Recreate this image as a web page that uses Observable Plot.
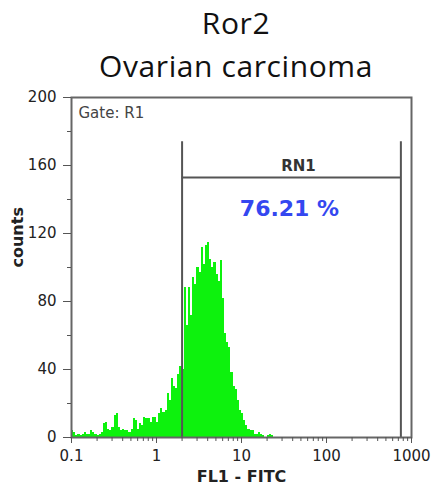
<!DOCTYPE html>
<html><head><meta charset="utf-8">
<script src="https://cdn.jsdelivr.net/npm/d3@7"></script>
<script src="https://cdn.jsdelivr.net/npm/@observablehq/plot@0.6"></script>
<style>
html,body{margin:0;padding:0;background:#fff;overflow:hidden}
#head{position:relative;width:431px;height:85px}
.t{position:absolute;left:41px;width:390px;text-align:center;font-family:"Open Sans",sans-serif;font-size:30px;letter-spacing:0.6px;line-height:1;color:#111;white-space:nowrap}
#chart svg{display:block}
</style></head><body>
<div id="head"><div class="t" id="t1" style="top:8px"></div><div class="t" id="t2" style="top:51px"></div></div>
<div id="chart"></div>
<script>
const titleLines = ["Ror2", "Ovarian carcinoma"];
// histogram: log-spaced channels starting at 0.1, 40 channels per decade
const channelStart = 0.1;
const channelsPerDecade = 40;
const counts = [4,3,1,2,1,2,3,2,2,4, 3,2,1,2,3,8,9,5,4,6, 13,14,6,4,5,4,4,3,5,11,
  10,5,8,7,12,11,11,9,12,12, 9,14,17,15,16,26,22,35,30,29, 37,42,40,88,66,88,72,94,90,100,
  97,112,102,113,115,105,100,103,96,92, 104,82,61,56,53,38,30,28,22,16, 14,10,7,5,4,4,2,2,3,2,
  1,0,1,2,1];
const xTicks = [0.1, 1, 10, 100, 1000];
const xTickLabels = ["0.1", "1", "10", "100", "1000"];
const yTicks = [0, 40, 80, 120, 160, 200];
const yMinorTicks = [20, 60, 100, 140, 180];
const gateBounds = [2, 750];
const gateBarLevel = 153;
const gateTop = 174;
const gateName = "RN1";
const gatePercent = 76.21;
const gateLabel = "Gate: R1";
const xLabel = "FL1 - FITC";
const yLabel = "counts";

document.getElementById("t1").textContent = titleLines[0];
document.getElementById("t2").textContent = titleLines[1];

const bins = counts.map((c, i) => ({
  x1: channelStart * Math.pow(10, i / channelsPerDecade),
  x2: channelStart * Math.pow(10, (i + 1) / channelsPerDecade),
  count: c
}));
const xMinorTicks = [0.1, 1, 10, 100].flatMap(d => [2,3,4,5,6,7,8,9].map(k => d * k));
const gateCenter = Math.sqrt(gateBounds[0] * gateBounds[1]);
const font = "DejaVu Sans";

const plot = Plot.plot({
  width: 431,
  height: 408,
  marginTop: 12,
  marginBottom: 56,
  marginLeft: 71,
  marginRight: 20,
  style: {fontFamily: font, background: "#fff", color: "#222"},
  x: {type: "log", domain: [0.1, 1000]},
  y: {domain: [0, 200]},
  marks: [
    Plot.rect(bins, {x1: "x1", x2: "x2", y1: 0, y2: "count", fill: "#0df20d", shapeRendering: "crispEdges"}),
    Plot.ruleX(gateBounds, {y1: 0, y2: gateTop, stroke: "#555", strokeWidth: 2}),
    Plot.ruleY([gateBarLevel], {x1: gateBounds[0], x2: gateBounds[1], stroke: "#555", strokeWidth: 2}),
    Plot.frame({stroke: "#666", strokeWidth: 2}),
    Plot.axisX(xTicks, {tickFormat: d => xTickLabels[xTicks.indexOf(d)], tickSize: 6, tickPadding: 7, fontSize: 15, label: null, stroke: "#555"}),
    Plot.axisX(xMinorTicks, {tickSize: 4, text: null, label: null, stroke: "#555"}),
    Plot.axisY(yTicks, {tickSize: 8, tickPadding: 7, fontSize: 15, label: null, stroke: "#555"}),
    Plot.axisY(yMinorTicks, {tickSize: 4, text: null, label: null, stroke: "#555"}),
    Plot.text([gateLabel], {frameAnchor: "top-left", dx: 7, dy: 10, fontSize: 15, textAnchor: "start", fill: "#444"}),
    Plot.text([gateName], {x: () => gateCenter, y: () => gateBarLevel, dx: 7, dy: -11, fontSize: 15, fontWeight: "bold", fill: "#333"}),
    Plot.text([gatePercent.toFixed(2) + " %"], {x: () => gateCenter, y: () => gateBarLevel, dx: -2, dy: 32, fontSize: 22, fontWeight: "bold", fill: "#3447f0"}),
    Plot.text([yLabel], {frameAnchor: "left", dx: -54, rotate: -90, fontSize: 16, fontWeight: "bold", fill: "#222"}),
    Plot.text([xLabel], {frameAnchor: "bottom", dy: 44, fontSize: 16, fontWeight: "bold", fill: "#222"})
  ]
});
document.getElementById("chart").appendChild(plot);
</script>
</body></html>
